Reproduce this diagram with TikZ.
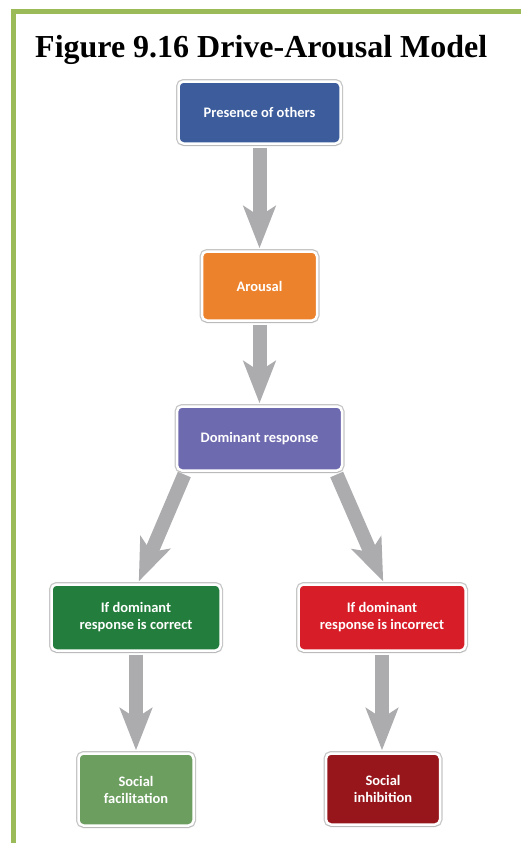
\documentclass[tikz,border=0pt]{standalone}
\usepackage{fontspec}
\setmainfont{Liberation Serif}
\newfontfamily\boxfont{Carlito}
\usetikzlibrary{arrows.meta,shadows}
\definecolor{frame}{RGB}{155,187,89}
\definecolor{cblue}{RGB}{60,92,155}
\definecolor{corange}{RGB}{236,130,44}
\definecolor{cpurple}{RGB}{110,106,176}
\definecolor{cgreen}{RGB}{35,125,60}
\definecolor{cred}{RGB}{215,30,40}
\definecolor{clgreen}{RGB}{108,158,96}
\definecolor{cdred}{RGB}{150,22,28}
\definecolor{arrowgray}{RGB}{172,172,175}
\tikzset{
  flowbox/.style={rectangle, rounded corners=5pt, draw=white, line width=2.5pt,
    text=white, font=\boxfont\bfseries\fontsize{14.5}{17}\selectfont, align=center,
    inner sep=2pt,
    preaction={draw=gray!45, line width=5pt},
    drop shadow={opacity=0.25, shadow xshift=0pt, shadow yshift=-2pt}},
  flowarrow/.style={draw=arrowgray, line width=14pt,
    -{Stealth[length=42pt, width=32pt, inset=10pt]}, shorten <=3pt, shorten >=2pt}
}
\begin{document}
\begin{tikzpicture}[x=1pt,y=-1pt]
\useasboundingbox (0,0) rectangle (521,843);
\fill[white] (0,0) rectangle (521,843);
% frame
\fill[frame] (11,9.5) rectangle (521,14);
\fill[frame] (11,9.5) rectangle (16,843);
% title
\node[anchor=base west, inner sep=0, font=\bfseries\fontsize{32}{36}\selectfont] (title) at (35,58) {Figure 9.16 Drive-Arousal Model};
% boxes
\node[flowbox, fill=cblue, minimum width=162pt, minimum height=62pt] (b1) at (259.5,112.5) {Presence of others};
\node[flowbox, fill=corange, minimum width=115pt, minimum height=69pt] (b2) at (259.5,286) {Arousal};
\node[flowbox, fill=cpurple, minimum width=165pt, minimum height=64pt] (b3) at (259.5,438.5) {Dominant response};
\node[flowbox, fill=cgreen, minimum width=169pt, minimum height=66pt] (b4) at (136,617.5) {If dominant\\response is correct};
\node[flowbox, fill=cred, minimum width=167pt, minimum height=66pt] (b5) at (382,617.5) {If dominant\\response is incorrect};
\node[flowbox, fill=clgreen, minimum width=115pt, minimum height=72pt] (b6) at (136,789.5) {Social\\facilitation};
\node[flowbox, fill=cdred, minimum width=114pt, minimum height=71pt] (b7) at (383,789) {Social\\inhibition};
% arrows
\draw[flowarrow] (b1.south) -- (b2.north);
\draw[flowarrow] (b2.south) -- (b3.north);
\draw[flowarrow] ([xshift=-74pt]b3.south) -- ([xshift=2pt]b4.north);
\draw[flowarrow] ([xshift=76pt]b3.south) -- ([xshift=2pt]b5.north);
\draw[flowarrow] (b4.south) -- (b4.south |- b6.north);
\draw[flowarrow] (b5.south) -- (b5.south |- b7.north);
\end{tikzpicture}
\end{document}
